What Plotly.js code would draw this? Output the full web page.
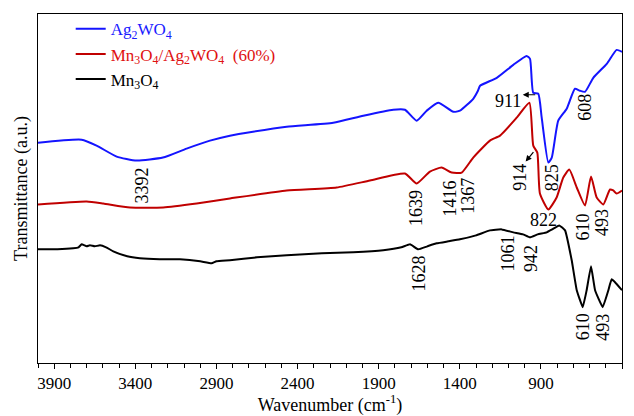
<!DOCTYPE html>
<html><head><meta charset="utf-8">
<script src="https://cdn.plot.ly/plotly-3.0.1.min.js"></script>
<style>body{margin:0;background:#fff}#chart{width:634px;height:416px}</style>
</head><body><div id="chart"></div>
<script>
// Ag2WO4 (blue)
const agWn = [4000,3731,3639,3515,3392,3230,3084,2940,2817,2675,2467,2180,1995,1810,1738,1666,1604,1533,1440,1399,1317,1288,1275,1172,1070,988,967,947,916,895,854,833,793,741,690,659,628,577,494,433,400];
const agT  = [221,224,218,207,203,206,215,223,228,232,237,241,248,254,254,243,253,261,252,253,265,273,278,286,299,308,305,271,270,246,201,206,243,255,275,273,272,286,300,314,312];
// Mn3O4/Ag2WO4 (60%) (red)
const mixWn = [4000,3700,3598,3433,3228,3022,2817,2467,2159,1954,1738,1666,1584,1512,1450,1388,1317,1214,1152,1049,971,947,922,906,854,803,762,725,679,628,591,556,515,474,454,433,400];
const mixT  = [159,162,160,156,156,160,165,173,176,183,190,180,192,196,191,191,206,223,228,246,261,218,211,170,154,166,186,194,176,158,187,166,159,174,173,170,173];
// Mn3O4 (black)
const mnWn = [4000,3880,3783,3750,3731,3700,3680,3650,3618,3580,3536,3450,3372,3250,3125,3000,2930,2900,2817,2650,2467,2250,2057,1872,1760,1707,1656,1600,1542,1470,1399,1300,1214,1142,1070,1010,967,920,864,830,787,751,710,679,642,618,591,566,519,484,464,443,400];
const mnT  = [114,114,115,116,119,117,118,117,118,116,112,107,105,104,104,102,100,102,103,106,108,110,111,113,116,119,114,117,120,122,124,128,133,134,131,129,126,129,131,134,138,133,103,73,56,73,97,73,56,73,84,81,73];
const xTicks = [3900,3400,2900,2400,1900,1400,900,400];
// annotation labels: [text, wavenumber, transmittance, angle]
const labels = [
  ['3392',3365,178,-90],['1639',1666,155,-90],['1416',1460,165,-90],['1367',1348,168,-90],
  ['1628',1650,90,-90],['1061',1101,110,-90],['942',957,105,-90],['822',885,143,0],
  ['610',639,136,-90],['493',519,141,-90],['610',639,36,-90],['493',519,36,-90],
  ['825',833,186,-90],['914',1033,186,-90],['911',1101,263,0],['608',628,256,-90]
];

const F = 'Liberation Serif, Times New Roman, serif';
const traces = [
  {x:agWn,y:agT,name:'<span style="color:#1a1aff">Ag<sub>2</sub>WO<sub>4</sub></span>',line:{color:'#1414ff',width:2,shape:'spline',smoothing:0.5}},
  {x:mixWn,y:mixT,name:'<span style="color:#e01010">Mn<sub>3</sub>O<sub>4</sub>/Ag<sub>2</sub>WO<sub>4</sub>  (60%)</span>',line:{color:'#c00000',width:2,shape:'spline',smoothing:0.5}},
  {x:mnWn,y:mnT,name:'Mn<sub>3</sub>O<sub>4</sub>',line:{color:'#000000',width:2,shape:'spline',smoothing:0.3}}
].map(t=>Object.assign({type:'scatter',mode:'lines',hoverinfo:'skip'},t));

const annotations = labels.map(l=>({x:l[1],y:l[2],text:l[0],textangle:l[3],showarrow:false,
  font:{family:F,size:18,color:'#000'},xref:'x',yref:'y'}));
// arrows for 911 and 914
annotations.push({x:1012,y:269,xref:'x',yref:'y',text:'',showarrow:true,arrowhead:2,arrowsize:1,arrowwidth:1.2,arrowcolor:'#000',ax:14,ay:0});
annotations.push({x:994,y:202,xref:'x',yref:'y',text:'',showarrow:true,arrowhead:2,arrowsize:1,arrowwidth:1.2,arrowcolor:'#000',ax:9,ay:-11});

const layout = {
  width:634,height:416,
  margin:{l:38,r:12,t:13,b:53},
  paper_bgcolor:'#fff',plot_bgcolor:'#fff',
  font:{family:F,size:17,color:'#000'},
  showlegend:true,
  legend:{x:0.056,y:1.005,xanchor:'left',yanchor:'top',bgcolor:'rgba(0,0,0,0)',font:{family:F,size:17},tracegroupgap:0,itemwidth:30},
  xaxis:{range:[4000,400],tickvals:xTicks,ticktext:xTicks.map(String),ticks:'outside',ticklen:5,tickcolor:'#000',
    minor:{dtick:100,tick0:400,ticks:'outside',ticklen:4,tickcolor:'#000'},
    showline:true,linecolor:'#000',linewidth:1,mirror:true,showgrid:false,zeroline:false,
    tickfont:{family:F,size:17},
    title:{text:'Wavenumber (cm<sup>-1</sup>)',font:{family:F,size:18},standoff:2}},
  yaxis:{range:[0,350],showticklabels:false,ticks:'',showline:true,linecolor:'#000',linewidth:1,mirror:true,showgrid:false,zeroline:false,
    title:{text:'Transmittance (a.u.)',font:{family:F,size:18},standoff:4}},
  annotations:annotations
};
Plotly.newPlot('chart',traces,layout,{displayModeBar:false,staticPlot:true});
</script></body></html>
